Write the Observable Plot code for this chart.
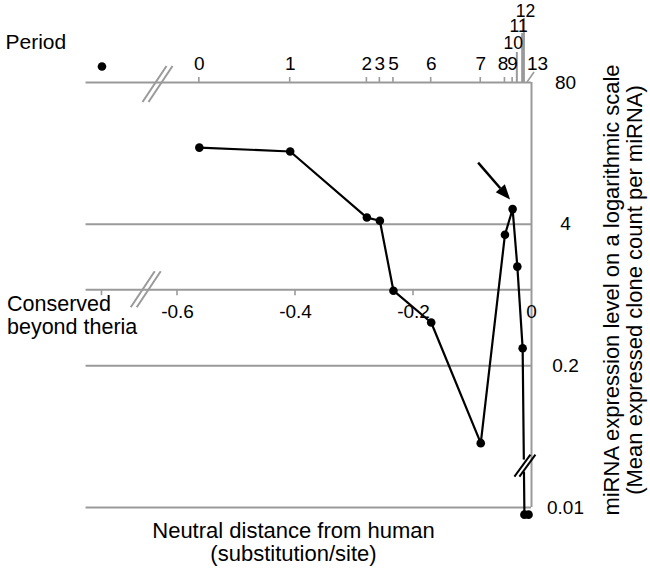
<!DOCTYPE html>
<html>
<head>
<meta charset="utf-8">
<script src="https://cdn.jsdelivr.net/npm/d3@7"></script>
<script src="https://cdn.jsdelivr.net/npm/@observablehq/plot@0.6"></script>
<style>
  html, body { margin: 0; padding: 0; background: #fff; }
  #chart svg { display: block; }
</style>
</head>
<body>
<div id="chart"></div>
<script>
// ---------- data ----------
const periods    = ["0", "1", "2", "3", "5", "6", "7", "8", "9", "10", "11", "12", "13"];
const distance   = [-0.563, -0.409, -0.279, -0.257, -0.234, -0.170, -0.086, -0.045, -0.032, -0.024, -0.015, -0.012, -0.005];
const expression = [20.2, 18.6, 4.6, 4.3, 0.98, 0.50, 0.039, 3.2, 5.5, 1.63, 0.29, 0.0086, 0.0086];

const yTicks      = [80, 4, 0.2, 0.01];
const yTickLabels = ["80", "4", "0.2", "0.01"];
const xTicks      = [-0.6, -0.4, -0.2, 0];
const xTickLabels = ["-0.6", "-0.4", "-0.2", "0"];
const baselineLevel = 1;              // level at which the distance axis is drawn
const conservedSlot = -0.728;         // broken-axis slot for "Conserved beyond theria"
const axisStart     = -0.755;         // left end of the horizontal axis lines
const topBreakAt    = -0.633;
const bottomBreakAt = -0.653;
const lineBreakLevel = 0.024;         // break on the expression axis
const peakPeriod = "9";

const data = periods.map((p, i) => ({period: p, distance: distance[i], expression: expression[i]}));

// ---------- style / layout ----------
const gray = "#9a9a9a";
const font = "'Liberation Sans', Arial, Helvetica, sans-serif";
const lifted = {
  "8":  {dy: -19, dx: -2},
  "9":  {dy: -19, dx: 0},
  "10": {dy: -39, dx: -4, line: 30, size: 17.5},
  "11": {dy: -56, dx: -4, line: 49, size: 17.5},
  "12": {dy: -71, dx: 1, line: 64, size: 17.5},
  "13": {dy: -19, dx: 9, leader: true}
};
const normal = data.filter(d => !lifted[d.period]);

function topTicks(index, scales, values, dims, context) {
  const g = d3.create("svg:g").attr("stroke", gray).attr("fill", "none");
  const y0 = scales.y(yTicks[0]);
  for (const d of data) {
    const x = scales.x(d.distance);
    const L = lifted[d.period];
    if (L && L.leader) {
      g.append("path").attr("d", `M${x - 1},${y0}L${x + 6},${y0 - 10}`).attr("stroke-width", 1.6);
    } else {
      const len = L && L.line ? L.line : 5;
      g.append("line").attr("x1", x).attr("x2", x).attr("y1", y0).attr("y2", y0 - len)
        .attr("stroke-width", len > 5 ? 2 : 1.6);
    }
  }
  return g.node();
}

function bottomTicks(index, scales) {
  const g = d3.create("svg:g").attr("stroke", gray).attr("stroke-width", 1.6);
  const y0 = scales.y(baselineLevel);
  for (const v of [conservedSlot, ...xTicks.slice(0, -1)]) {
    const x = scales.x(v);
    g.append("line").attr("x1", x).attr("x2", x).attr("y1", y0).attr("y2", y0 + 6);
  }
  return g.node();
}

function slashes(g, cx, cy, dx, dy, gap, color, w) {
  for (const o of [-gap / 2, gap / 2]) {
    g.append("line")
      .attr("x1", cx + o - dx / 2).attr("y1", cy + dy / 2)
      .attr("x2", cx + o + dx / 2).attr("y2", cy - dy / 2)
      .attr("stroke", color).attr("stroke-width", w);
  }
}

function breaks(index, scales) {
  const g = d3.create("svg:g");
  slashes(g, scales.x(topBreakAt), scales.y(yTicks[0]) + 2, 24, 36, 6, gray, 2);
  slashes(g, scales.x(bottomBreakAt), scales.y(baselineLevel), 24, 36, 6, gray, 2);
  const last = data[data.length - 2];
  const cx = scales.x(last.distance), cy = scales.y(lineBreakLevel);
  g.append("rect").attr("x", cx - 3).attr("y", cy - 6).attr("width", 6).attr("height", 12).attr("fill", "white");
  slashes(g, cx + 1, cy, 16, 22, 5, "black", 2);
  return g.node();
}

function arrow(index, scales) {
  const p = data.find(d => d.period === peakPeriod);
  const px = scales.x(p.distance), py = scales.y(p.expression);
  const x1 = px - 34, y1 = py - 46, x2 = px - 2, y2 = py - 9;
  const a = Math.atan2(y2 - y1, x2 - x1), L = 15, W = 6;
  const bx = x2 - L * Math.cos(a), by = y2 - L * Math.sin(a);
  const g = d3.create("svg:g");
  g.append("line").attr("x1", x1).attr("y1", y1).attr("x2", bx).attr("y2", by)
    .attr("stroke", "black").attr("stroke-width", 2.5);
  g.append("path")
    .attr("d", `M${x2},${y2}L${bx + W * Math.sin(a)},${by - W * Math.cos(a)}L${bx - W * Math.sin(a)},${by + W * Math.cos(a)}Z`)
    .attr("fill", "black");
  return g.node();
}

const txt = {fontSize: 19, fill: "black"};

const chart = Plot.plot({
  width: 650,
  height: 572,
  marginTop: 82,
  marginBottom: 65,
  marginLeft: 177,
  marginRight: 119,
  x: {domain: [-0.6, 0], axis: null},
  y: {type: "log", domain: [0.01, 80], axis: null},
  style: {fontFamily: font, background: "white", color: "black", overflow: "visible"},
  marks: [
    // horizontal axis lines / gridlines
    Plot.ruleY([...yTicks, baselineLevel], {y: d => d, x1: axisStart, x2: 0, stroke: gray, strokeWidth: 2}),
    // right (expression) axis line
    Plot.ruleX([0], {y1: yTicks[yTicks.length - 1], y2: yTicks[0], stroke: gray, strokeWidth: 2}),
    topTicks,
    bottomTicks,
    // period labels on the top axis
    Plot.text(normal, {x: "distance", y: () => yTicks[0], text: "period", dy: -19, ...txt}),
    ...Object.entries(lifted).map(([p, L]) =>
      Plot.text(data.filter(d => d.period === p), {x: "distance", y: () => yTicks[0], text: "period",
        dy: L.dy, dx: L.dx, ...txt, fontSize: L.size || txt.fontSize})
    ),
    Plot.dot([conservedSlot], {x: d => d, y: () => yTicks[0], dy: -16, r: 4.3, fill: "black"}),
    // distance tick labels
    Plot.text(xTicks, {x: d => d, y: () => baselineLevel, text: (d, i) => xTickLabels[i], dy: 22, ...txt}),
    // expression tick labels
    Plot.text(yTicks, {x: () => 0, y: d => d, text: (d, i) => yTickLabels[i], dx: 34, ...txt}),
    // data
    Plot.line(data, {x: "distance", y: "expression", stroke: "black", strokeWidth: 2.2}),
    breaks,
    Plot.dot(data, {x: "distance", y: "expression", r: 4.3, fill: "black"}),
    arrow,
    // titles
    Plot.text(["Period"], {frameAnchor: "top-left", dx: -172, dy: -40, textAnchor: "start", lineAnchor: "middle",
      fontSize: 21, fill: "black"}),
    Plot.text(["Conserved\nbeyond theria"], {x: () => conservedSlot, y: () => baselineLevel, dx: -95, dy: 25,
      textAnchor: "start", lineAnchor: "middle", lineHeight: 1.07, fontSize: 21.5, fill: "black"}),
    Plot.text(["Neutral distance from human\n(substitution/site)"], {frameAnchor: "bottom", dx: -61, dy: 35,
      textAnchor: "middle", lineAnchor: "middle", lineHeight: 1.05, fontSize: 22, fill: "black"}),
    Plot.text(["miRNA expression level on a logarithmic scale\n(Mean expressed clone count per miRNA)"],
      {frameAnchor: "right", dx: 92, dy: -5, rotate: -90, textAnchor: "middle", lineAnchor: "middle",
       lineHeight: 1.03, fontSize: 22, fill: "black"})
  ]
});

document.getElementById("chart").appendChild(chart);
</script>
</body>
</html>
